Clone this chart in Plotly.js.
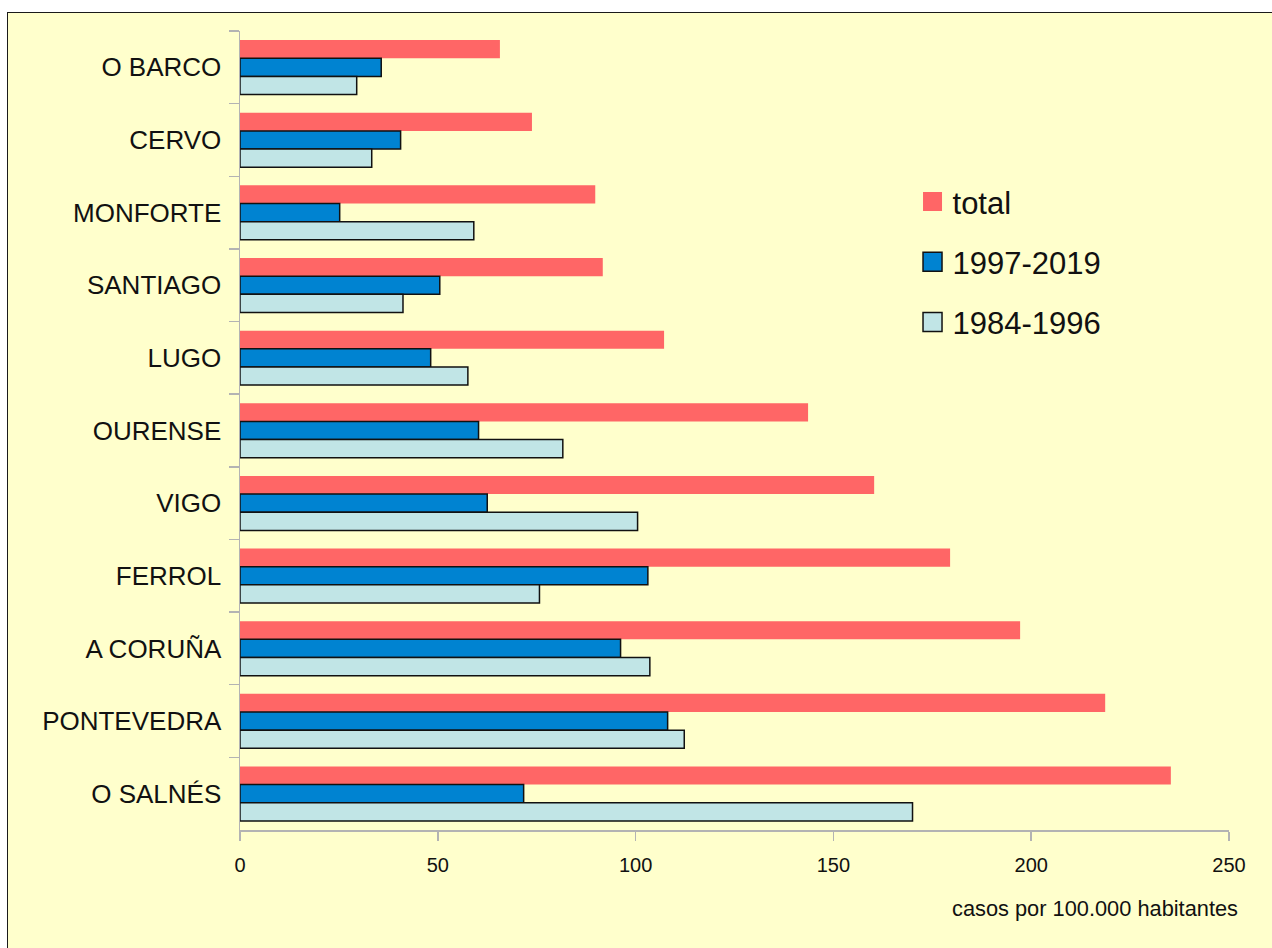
<!DOCTYPE html>
<html>
<head>
<meta charset="utf-8">
<script src="https://cdn.plot.ly/plotly-3.0.1.min.js"></script>
<style>
  html, body { margin: 0; padding: 0; background: #ffffff; overflow: hidden; width: 1272px; height: 948px; }
  #frame { position: absolute; left: 7px; top: 12px; width: 1275px; height: 946px;
           border-left: 1px solid #1a1a1a; border-top: 1px solid #1a1a1a; background: #FFFFCC; overflow: hidden; }
  #chart { position: absolute; left: 0; top: 0; width: 1265px; height: 936px; }
</style>
</head>
<body>
<div id="frame"><div id="chart"></div></div>
<script>
// Categories, top to bottom
const categories = ["O BARCO", "CERVO", "MONFORTE", "SANTIAGO", "LUGO", "OURENSE",
                    "VIGO", "FERROL", "A CORUÑA", "PONTEVEDRA", "O SALNÉS"];
const seriesNames = ["total", "1997-2019", "1984-1996"];
const totalValues  = [65.7, 73.8, 89.8, 91.7, 107.2, 143.6, 160.3, 179.5, 197.2, 218.7, 235.3];
const recentValues = [35.7, 40.6, 25.2, 50.5, 48.2, 60.3, 62.5, 103.1, 96.2, 108.1, 71.7];
const earlyValues  = [29.5, 33.3, 59.1, 41.2, 57.6, 81.6, 100.5, 75.7, 103.6, 112.3, 170.0];
const xTickValues = [0, 50, 100, 150, 200, 250];
const xAxisLabel = "casos por 100.000 habitantes";

const font = "Liberation Sans, Arial, sans-serif";

const traces = [
  { type: "bar", orientation: "h", name: seriesNames[0], legendgroup: "a",
    y: categories, x: totalValues,
    marker: { color: "#FF6666", line: { width: 0 } } },
  { type: "bar", orientation: "h", name: seriesNames[1], legendgroup: "b",
    y: categories, x: recentValues,
    marker: { color: "#0083D1", line: { color: "#111111", width: 1.5 } } },
  { type: "bar", orientation: "h", name: seriesNames[2], legendgroup: "c",
    y: categories, x: earlyValues,
    marker: { color: "#C1E5E6", line: { color: "#111111", width: 1.5 } } }
];

const layout = {
  width: 1265, height: 936,
  margin: { l: 232, r: 44.3, t: 17.5, b: 118.5 },
  paper_bgcolor: "#FFFFCC",
  plot_bgcolor: "#FFFFCC",
  font: { family: font, color: "#111111" },
  barmode: "group",
  bargap: 0.25,
  bargroupgap: 0,
  showlegend: true,
  hovermode: false,
  legend: {
    x: 0.680, xanchor: "left", y: 0.82, yanchor: "top",
    bgcolor: "rgba(0,0,0,0)",
    font: { size: 31, family: font, color: "#111111" },
    tracegroupgap: 17,
    traceorder: "grouped"
  },
  xaxis: {
    range: [0, 250],
    tickvals: xTickValues,
    ticktext: xTickValues.map(String),
    showgrid: false, zeroline: false,
    showline: true, linecolor: "#b3b3b3", linewidth: 1.5,
    ticks: "outside", ticklen: 9, tickcolor: "#b3b3b3", tickwidth: 1.5,
    ticklabelstandoff: 7,
    tickfont: { size: 20, family: font, color: "#111111" }
  },
  yaxis: {
    type: "category",
    autorange: "reversed",
    showgrid: false, zeroline: false,
    showline: true, linecolor: "#b3b3b3", linewidth: 1.5,
    ticks: "outside", ticklen: 10, tickcolor: "#b3b3b3", tickwidth: 1.5,
    tickson: "boundaries",
    ticklabelstandoff: 12,
    tickfont: { size: 26, family: font, color: "#111111" }
  },
  annotations: [{
    text: xAxisLabel, xref: "paper", yref: "paper",
    x: 1.0114, y: -0.098, xanchor: "right", yanchor: "middle",
    showarrow: false, font: { size: 21.8, family: font, color: "#111111" }
  }]
};

Plotly.newPlot("chart", traces, layout, { displayModeBar: false, staticPlot: true }).then(function (gd) {
  // make legend swatches square like the reference
  gd.querySelectorAll(".legend .legendpoints path").forEach(function (p) {
    p.setAttribute("d", "M9.5,9.5H-9.5V-9.5H9.5Z");
  });
});
</script>
</body>
</html>
